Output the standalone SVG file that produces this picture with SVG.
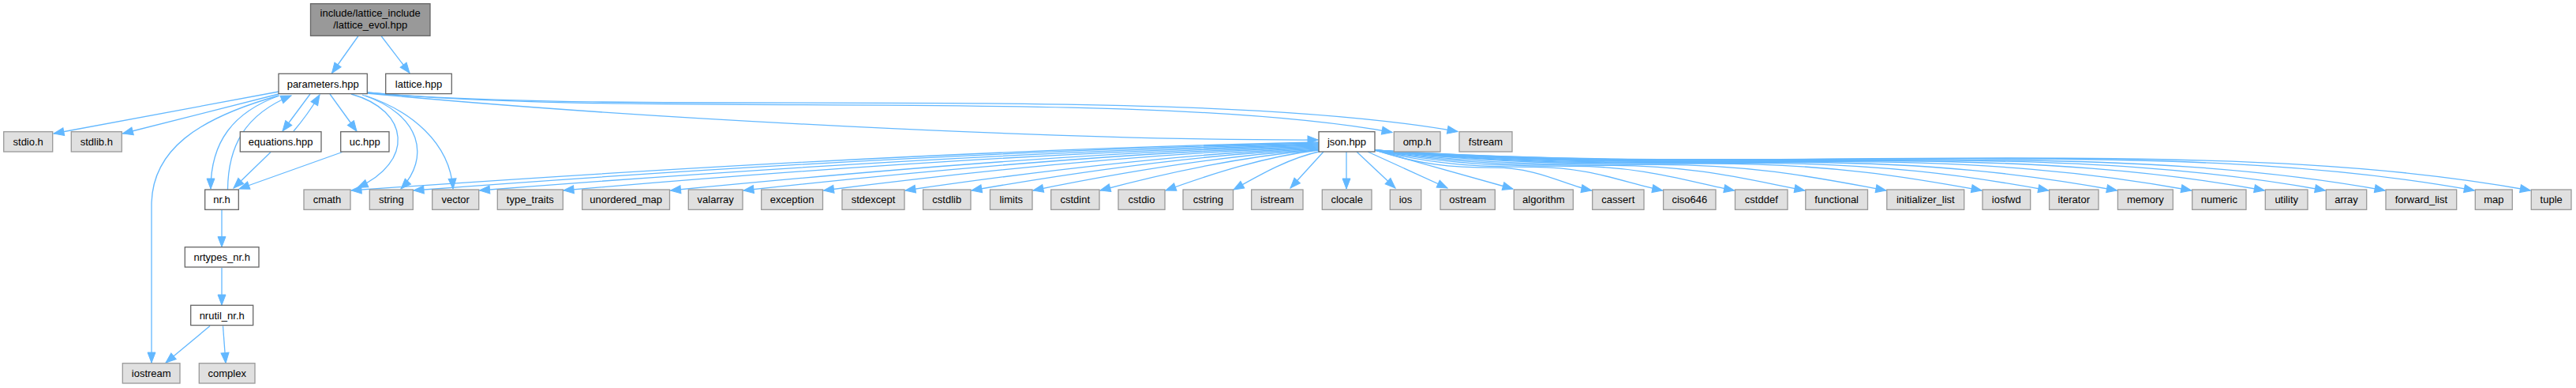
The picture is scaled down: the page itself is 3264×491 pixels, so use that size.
<svg xmlns="http://www.w3.org/2000/svg" width="3264" height="491" viewBox="0 0 3264 491">
<style>
.w{fill:#ffffff;stroke:#666666;stroke-width:1.3}
.g{fill:#e0e0e0;stroke:#999999;stroke-width:1.3}
.r{fill:#999999;stroke:#666666;stroke-width:1.3}
text{font-family:"Liberation Sans",Arial,Helvetica,sans-serif;font-size:13px;fill:#000000;text-anchor:middle}
.e{fill:none;stroke:#63b8ff;stroke-width:1.3;marker-end:url(#ah)}
</style>
<defs>
<marker id="ah" markerUnits="userSpaceOnUse" markerWidth="14" markerHeight="11" refX="13" refY="5" orient="auto" overflow="visible">
<path d="M0,0 L13,5 L0,10 Z" fill="#63b8ff" stroke="#63b8ff" stroke-width="1"/>
</marker>
</defs>
<rect width="3264" height="491" fill="#ffffff"/>
<g id="connectors">
<path class="e" d="M454,45.5 L420.5,92.5"/>
<path class="e" d="M483,45.5 L519,92.5"/>
<path class="e" d="M353,116 L68,169"/>
<path class="e" d="M353,119 L155.5,169"/>
<path class="e" d="M354,121 C295,142 267,180 267,239"/>
<path class="e" d="M288.5,240 C289,185 310,145 369,121"/>
<path class="e" d="M353,121 C250,150 192,190 192,260 L192,459"/>
<path class="e" d="M393,119 L358,166"/>
<path class="e" d="M372,166 Q390,145 405,120"/>
<path class="e" d="M418,119 L452,166"/>
<path class="e" d="M343,192.5 L296,238"/>
<path class="e" d="M433.5,192.5 L303,239"/>
<path class="e" d="M445,119 C520,140 525,205 453,237.5"/>
<path class="e" d="M459,120 C535,145 545,200 508,239"/>
<path class="e" d="M463,121 C520,140 570,180 574,239"/>
<path class="e" d="M465,118 C800,150 1350,178 1670,177"/>
<path class="e" d="M465,117 C800,150 1450,110 1764,167.5"/>
<path class="e" d="M465,117 C800,148 1500,105 1847,166.5"/>
<path class="e" d="M281,265.3 L281,312.5"/>
<path class="e" d="M281,339 L281,386"/>
<path class="e" d="M266,412.5 L210,459"/>
<path class="e" d="M282.5,412.5 L286,459.5"/>
<path class="e" d="M1671,180 C1242,189 813,215 445,241"/>
<path class="e" d="M1671,181 C1270,190 868,215 524,241"/>
<path class="e" d="M1671,182 C1299,191 926,216 607.5,241"/>
<path class="e" d="M1671,183 C1336,192 1001,216 714,241"/>
<path class="e" d="M1671,184 C1383,192 1096,217 849.5,241"/>
<path class="e" d="M1671,185 C1415,193 1160,217 942,241"/>
<path class="e" d="M1671,186 C1451,194 1231,217 1043.5,241"/>
<path class="e" d="M1671,187 C1487,195 1304,218 1147,241"/>
<path class="e" d="M1671,188 C1517,196 1362,218 1231,241"/>
<path class="e" d="M1671,189 C1544,197 1417,219 1309,241"/>
<path class="e" d="M1671,189.5 C1574,198 1476,219 1394,241"/>
<path class="e" d="M1671,190 C1603,198 1535,220 1477,241"/>
<path class="e" d="M1673,191.5 C1633,200 1595,222 1563,240"/>
<path class="e" d="M1677,192 L1635,238"/>
<path class="e" d="M1706,192 L1706,239"/>
<path class="e" d="M1719,192 L1768,238"/>
<path class="e" d="M1733,192 L1834,238"/>
<path class="e" d="M1742,190 L1917,239"/>
<path class="e" d="M1742,190 C1797.1,208 1838.5,212.2 1893.6,212.2 S1984.6,235 2016.7,241"/>
<path class="e" d="M1742,190 C1815.1,208 1870,211.3 1943.1,211.3 S2063.7,233.1 2106.6,241"/>
<path class="e" d="M1742,190 C1833.3,208 1901.8,210.3 1993.1,210.3 S2143.7,231.1 2197.5,241"/>
<path class="e" d="M1742,190 C1851.2,208 1933,209.4 2042.2,209.4 S2222.3,229.2 2286.8,241"/>
<path class="e" d="M1742,190 C1871.8,208 1969,208.4 2098.8,208.4 S2312.9,227 2389.8,241"/>
<path class="e" d="M1742,190 C1896,208 2011.5,207.1 2165.5,207.1 S2419.6,224.4 2511,241"/>
<path class="e" d="M1742,190 C1912.9,208 2041.1,206.3 2212,206.3 S2494,222.5 2595.6,241"/>
<path class="e" d="M1742,190 C1930.3,208 2071.5,205.4 2259.8,205.4 S2570.4,220.7 2682.4,241"/>
<path class="e" d="M1742,190 C1949.1,208 2104.5,204.4 2311.6,204.4 S2653.4,218.6 2776.7,241"/>
<path class="e" d="M1742,190 C1967.7,208 2136.9,203.5 2362.6,203.5 S2734.9,216.6 2869.3,241"/>
<path class="e" d="M1742,190 C1983.1,208 2163.8,202.7 2404.9,202.7 S2802.7,215 2946.3,241"/>
<path class="e" d="M1742,190 C1998.2,208 2190.4,201.9 2446.6,201.9 S2869.3,213.3 3022,241"/>
<path class="e" d="M1742,190 C2020.9,208 2230,200.7 2508.9,200.7 S2969,210.9 3135.3,241"/>
<path class="e" d="M1742,190 C2035.1,208 2254.8,200 2547.9,200 S3031.5,209.3 3206.3,241"/>
</g>
<g id="node-lattice_evol"><rect class="r" x="393.5" y="4.7" width="151.5" height="40.6"/><text x="469.2" y="21">include/lattice_include</text><text x="469.2" y="36">/lattice_evol.hpp</text></g>
<g id="node-parameters"><rect class="w" x="353" y="93.3" width="112.3" height="25.3"/><text x="409.2" y="110.6">parameters.hpp</text></g>
<g id="node-lattice"><rect class="w" x="488.7" y="93.3" width="83.6" height="25.3"/><text x="530.5" y="110.6">lattice.hpp</text></g>
<g id="node-stdio"><rect class="g" x="4.7" y="166.7" width="62" height="25.3"/><text x="35.7" y="184">stdio.h</text></g>
<g id="node-stdlib"><rect class="g" x="90.3" y="166.7" width="64" height="25.3"/><text x="122.3" y="184">stdlib.h</text></g>
<g id="node-equations"><rect class="w" x="304.3" y="166.7" width="102.7" height="25.3"/><text x="355.7" y="184">equations.hpp</text></g>
<g id="node-uc"><rect class="w" x="431.7" y="166.7" width="61.3" height="25.3"/><text x="462.3" y="184">uc.hpp</text></g>
<g id="node-json"><rect class="w" x="1671" y="166.7" width="71" height="25.3"/><text x="1706.5" y="184">json.hpp</text></g>
<g id="node-omp"><rect class="g" x="1766.3" y="166.7" width="58.7" height="25.3"/><text x="1795.7" y="184">omp.h</text></g>
<g id="node-fstream"><rect class="g" x="1849" y="166.7" width="67" height="25.3"/><text x="1882.5" y="184">fstream</text></g>
<g id="node-nr"><rect class="w" x="259.7" y="240" width="42.6" height="25.3"/><text x="281" y="257.3">nr.h</text></g>
<g id="node-cmath"><rect class="g" x="385" y="240" width="59" height="25.3"/><text x="414.5" y="257.3">cmath</text></g>
<g id="node-string"><rect class="g" x="468.3" y="240" width="55" height="25.3"/><text x="495.8" y="257.3">string</text></g>
<g id="node-vector"><rect class="g" x="547.7" y="240" width="59" height="25.3"/><text x="577.2" y="257.3">vector</text></g>
<g id="node-type_traits"><rect class="g" x="630.3" y="240" width="83" height="25.3"/><text x="671.8" y="257.3">type_traits</text></g>
<g id="node-unordered_map"><rect class="g" x="737.7" y="240" width="110.8" height="25.3"/><text x="793.1" y="257.3">unordered_map</text></g>
<g id="node-valarray"><rect class="g" x="872.3" y="240" width="68.7" height="25.3"/><text x="906.7" y="257.3">valarray</text></g>
<g id="node-exception"><rect class="g" x="964.7" y="240" width="77.8" height="25.3"/><text x="1003.6" y="257.3">exception</text></g>
<g id="node-stdexcept"><rect class="g" x="1067" y="240" width="79" height="25.3"/><text x="1106.5" y="257.3">stdexcept</text></g>
<g id="node-cstdlib"><rect class="g" x="1169.6" y="240" width="60.4" height="25.3"/><text x="1199.8" y="257.3">cstdlib</text></g>
<g id="node-limits"><rect class="g" x="1254.5" y="240" width="53.5" height="25.3"/><text x="1281.3" y="257.3">limits</text></g>
<g id="node-cstdint"><rect class="g" x="1331.7" y="240" width="61.3" height="25.3"/><text x="1362.3" y="257.3">cstdint</text></g>
<g id="node-cstdio"><rect class="g" x="1417" y="240" width="59" height="25.3"/><text x="1446.5" y="257.3">cstdio</text></g>
<g id="node-cstring"><rect class="g" x="1499" y="240" width="63.5" height="25.3"/><text x="1530.8" y="257.3">cstring</text></g>
<g id="node-istream"><rect class="g" x="1585.7" y="240" width="65.3" height="25.3"/><text x="1618.3" y="257.3">istream</text></g>
<g id="node-clocale"><rect class="g" x="1675.3" y="240" width="62.7" height="25.3"/><text x="1706.7" y="257.3">clocale</text></g>
<g id="node-ios"><rect class="g" x="1761.3" y="240" width="39.4" height="25.3"/><text x="1781" y="257.3">ios</text></g>
<g id="node-ostream"><rect class="g" x="1825" y="240" width="69.3" height="25.3"/><text x="1859.7" y="257.3">ostream</text></g>
<g id="node-algorithm"><rect class="g" x="1918.3" y="240" width="75" height="25.3"/><text x="1955.8" y="257.3">algorithm</text></g>
<g id="node-cassert"><rect class="g" x="2017.7" y="240" width="65.3" height="25.3"/><text x="2050.3" y="257.3">cassert</text></g>
<g id="node-ciso646"><rect class="g" x="2107.6" y="240" width="66.4" height="25.3"/><text x="2140.8" y="257.3">ciso646</text></g>
<g id="node-cstddef"><rect class="g" x="2198.5" y="240" width="66.5" height="25.3"/><text x="2231.8" y="257.3">cstddef</text></g>
<g id="node-functional"><rect class="g" x="2287.8" y="240" width="78.7" height="25.3"/><text x="2327.2" y="257.3">functional</text></g>
<g id="node-initializer_list"><rect class="g" x="2390.8" y="240" width="97.9" height="25.3"/><text x="2439.8" y="257.3">initializer_list</text></g>
<g id="node-iosfwd"><rect class="g" x="2512" y="240" width="60.7" height="25.3"/><text x="2542.3" y="257.3">iosfwd</text></g>
<g id="node-iterator"><rect class="g" x="2596.6" y="240" width="62.4" height="25.3"/><text x="2627.8" y="257.3">iterator</text></g>
<g id="node-memory"><rect class="g" x="2683.4" y="240" width="69.9" height="25.3"/><text x="2718.4" y="257.3">memory</text></g>
<g id="node-numeric"><rect class="g" x="2777.7" y="240" width="68.3" height="25.3"/><text x="2811.8" y="257.3">numeric</text></g>
<g id="node-utility"><rect class="g" x="2870.3" y="240" width="53.7" height="25.3"/><text x="2897.2" y="257.3">utility</text></g>
<g id="node-array"><rect class="g" x="2947.3" y="240" width="51.4" height="25.3"/><text x="2973" y="257.3">array</text></g>
<g id="node-forward_list"><rect class="g" x="3023" y="240" width="89.7" height="25.3"/><text x="3067.9" y="257.3">forward_list</text></g>
<g id="node-map"><rect class="g" x="3136.3" y="240" width="47" height="25.3"/><text x="3159.8" y="257.3">map</text></g>
<g id="node-tuple"><rect class="g" x="3207.3" y="240" width="50.7" height="25.3"/><text x="3232.7" y="257.3">tuple</text></g>
<g id="node-nrtypes"><rect class="w" x="234.3" y="312.7" width="93.7" height="25.3"/><text x="281.2" y="330">nrtypes_nr.h</text></g>
<g id="node-nrutil"><rect class="w" x="241.7" y="386.3" width="79" height="25.3"/><text x="281.2" y="403.6">nrutil_nr.h</text></g>
<g id="node-iostream"><rect class="g" x="155.3" y="459.7" width="72.7" height="25.3"/><text x="191.7" y="477">iostream</text></g>
<g id="node-complex"><rect class="g" x="252.3" y="459.7" width="70.7" height="25.3"/><text x="287.7" y="477">complex</text></g>
</svg>
